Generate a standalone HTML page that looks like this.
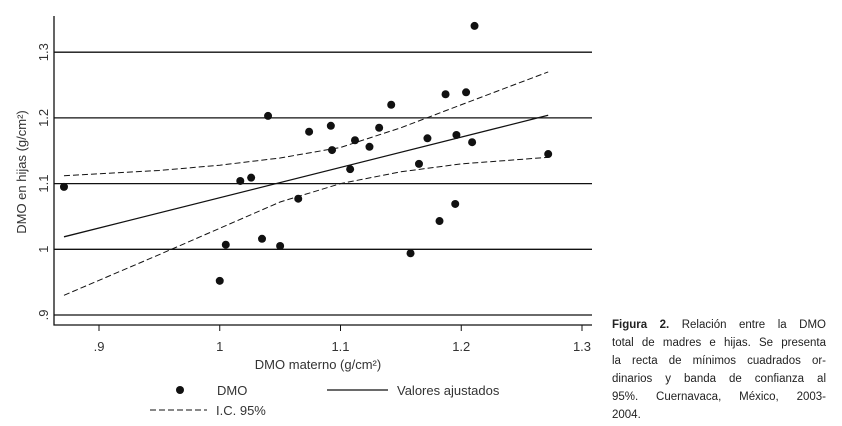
<!DOCTYPE html>
<html><head><meta charset="utf-8"><style>
body{margin:0;background:#fff;width:842px;height:426px;overflow:hidden;font-family:"Liberation Sans",sans-serif}
#cap{position:absolute;left:612px;top:316px;width:214px;font-size:11.5px;line-height:18px;color:#222}
#cap div{text-align:justify;text-align-last:justify;white-space:nowrap}
#cap div.last{text-align-last:left}
</style></head><body>
<svg id="chart" width="842" height="426" style="position:absolute;left:0;top:0" font-family="Liberation Sans, sans-serif"></svg>
<div id="cap">
<div><b>Figura 2.</b> Relación entre la DMO</div>
<div>total de madres e hijas. Se presenta</div>
<div>la recta de mínimos cuadrados or-</div>
<div>dinarios y banda de confianza al</div>
<div>95%. Cuernavaca, México, 2003-</div>
<div class="last">2004.</div>
</div>
<script>
const ptX=[0.871,1.000,1.005,1.017,1.026,1.035,1.040,1.050,1.065,1.074,1.092,1.093,1.108,1.112,1.124,1.132,1.142,1.158,1.165,1.172,1.182,1.187,1.195,1.196,1.204,1.209,1.211,1.272];
const ptY=[1.095,0.952,1.007,1.104,1.109,1.016,1.203,1.005,1.077,1.179,1.188,1.151,1.122,1.166,1.156,1.185,1.220,0.994,1.130,1.169,1.043,1.236,1.069,1.174,1.239,1.163,1.340,1.145];
const fitX=[0.871,1.272];
const fitY=[1.019,1.204];
const ciX=[0.871,0.95,1.0,1.05,1.1,1.15,1.2,1.272];
const ciUp=[1.112,1.120,1.128,1.139,1.155,1.185,1.220,1.270];
const ciLo=[0.930,0.992,1.032,1.072,1.100,1.118,1.130,1.140];
const xTicks=[0.9,1.0,1.1,1.2,1.3];
const xTickLabels=[".9","1","1.1","1.2","1.3"];
const yTicks=[0.9,1.0,1.1,1.2,1.3];
const yTickLabels=[".9","1","1.1","1.2","1.3"];
const X=v=>99+(v-0.9)*1207.5, Y=v=>315-(v-0.9)*657;
const svg=document.getElementById('chart'),NS='http://www.w3.org/2000/svg';
function mk(t,a,txt){const e=document.createElementNS(NS,t);for(const k in a)e.setAttribute(k,a[k]);if(txt!=null)e.textContent=txt;svg.appendChild(e);return e;}
yTicks.forEach((v,i)=>{
 let g=mk('line',{x1:54,x2:592,y1:Y(v),y2:Y(v),stroke:'#111','stroke-width':1.3});
 
 
 let t=mk('text',{x:0,y:0,transform:`translate(48,${Y(v)}) rotate(-90)`,'text-anchor':'middle','font-size':13,fill:'#333'},yTickLabels[i]);
 
 
});
xTicks.forEach((v,i)=>{
 let l=mk('line',{x1:X(v),x2:X(v),y1:325,y2:331,stroke:'#111'});
 
 
 let t=mk('text',{x:X(v),y:351,'text-anchor':'middle','font-size':13,fill:'#333'},xTickLabels[i]);
 
 
});
let ax=mk('path',{d:'M54 16V325H592',fill:'none',stroke:'#111','stroke-width':1.3});


[ciUp,ciLo].forEach(arr=>{
 let p=mk('polyline',{points:ciX.map((x,i)=>X(x)+','+Y(arr[i])).join(' '),fill:'none',stroke:'#111','stroke-width':1,'stroke-dasharray':'6,3'});
 
 
});
let f=mk('polyline',{points:fitX.map((x,i)=>X(x)+','+Y(fitY[i])).join(' '),fill:'none',stroke:'#111','stroke-width':1.3});


ptX.forEach((x,i)=>{
 let c=mk('circle',{cx:X(x),cy:Y(ptY[i]),r:4,fill:'#111'});
 
 
});
let yt=mk('text',{x:0,y:0,transform:'translate(26,172) rotate(-90)','text-anchor':'middle','font-size':13,fill:'#333'},'DMO en hijas (g/cm²)');


let xt=mk('text',{x:318,y:369,'text-anchor':'middle','font-size':13,fill:'#333'},'DMO materno (g/cm²)');


let l1=mk('circle',{cx:180,cy:390,r:4,fill:'#111'});


let l1t=mk('text',{x:217,y:395,'font-size':13,fill:'#333'},'DMO');


let l2=mk('line',{x1:327,x2:388,y1:390,y2:390,stroke:'#111','stroke-width':1.3});


let l2t=mk('text',{x:397,y:395,'font-size':13,fill:'#333'},'Valores ajustados');


let l3=mk('line',{x1:150,x2:207,y1:410,y2:410,stroke:'#111','stroke-dasharray':'6,3'});


let l3t=mk('text',{x:216,y:415,'font-size':13,fill:'#333'},'I.C. 95%');


</script>
</body></html>
